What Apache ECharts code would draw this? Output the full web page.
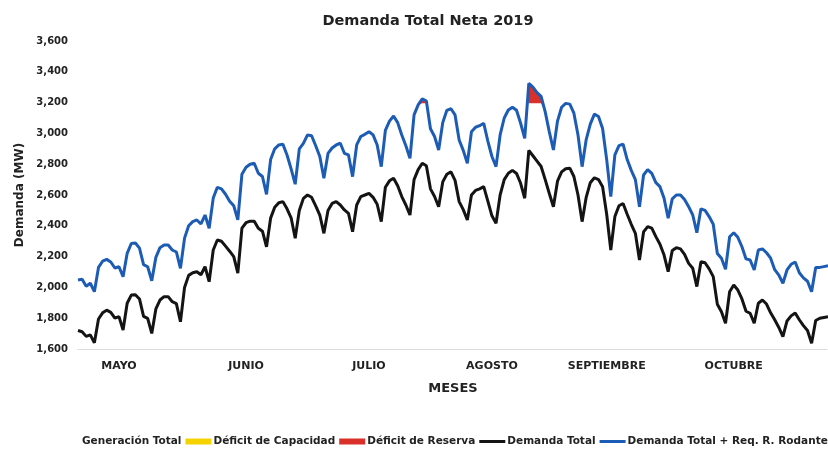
<!DOCTYPE html>
<html>
<head>
<meta charset="utf-8">
<script src="https://cdn.jsdelivr.net/npm/echarts@6.0.0/dist/echarts.min.js"></script>
<style>
    html, body { margin: 0; padding: 0; background: #fff; }
    #main { width: 828px; height: 450px; }
</style>
</head>
<body>
<div id="main"></div>
<script>
// Demanda diaria (MW), 1 de mayo a 31 de octubre de 2019
const demandaTotal = [
    // mayo
    1720, 1712, 1682, 1692, 1640, 1795, 1835, 1852, 1838, 1800, 1810, 1723, 1897, 1950, 1952, 1925,
    1812, 1799, 1701, 1860, 1918, 1940, 1940, 1907, 1895, 1777, 2000, 2078, 2095, 2102, 2082,
    // junio
    2134, 2037, 2243, 2308, 2300, 2268, 2235, 2200, 2092, 2385, 2420, 2430, 2430, 2384, 2365,
    2264, 2450, 2520, 2550, 2557, 2510, 2452, 2319, 2500, 2578, 2600, 2585, 2530, 2470, 2351,
    // julio
    2500, 2545, 2557, 2535, 2503, 2481, 2362, 2535, 2590, 2600, 2611, 2585, 2540, 2427, 2650, 2692,
    2709, 2660, 2590, 2535, 2470, 2700, 2765, 2806, 2790, 2640, 2590, 2524, 2685, 2735, 2750,
    // agosto
    2695, 2557, 2505, 2438, 2600, 2630, 2640, 2654, 2560, 2465, 2416, 2600, 2700, 2741, 2760, 2740,
    2676, 2579, 2890, 2855, 2820, 2785, 2700, 2610, 2524, 2690, 2750, 2770, 2774, 2720, 2600,
    // septiembre
    2427, 2585, 2680, 2712, 2700, 2654, 2475, 2243, 2460, 2530, 2545, 2475, 2410, 2351, 2178,
    2360, 2395, 2385, 2330, 2280, 2210, 2102, 2240, 2258, 2250, 2215, 2156, 2124, 2005, 2167,
    // octubre
    2160, 2120, 2070, 1890, 1842, 1767, 1972, 2016, 1983, 1925, 1845, 1832, 1767, 1897, 1918, 1892,
    1835, 1790, 1740, 1680, 1782, 1815, 1834, 1790, 1752, 1720, 1637, 1785, 1800, 1805, 1810
];

const demandaRodante = [
    // mayo
    2048, 2053, 2008, 2027, 1972, 2130, 2170, 2182, 2165, 2126, 2134, 2069, 2221, 2285, 2288, 2255,
    2148, 2134, 2043, 2195, 2258, 2275, 2275, 2243, 2230, 2124, 2320, 2400, 2427, 2438, 2412,
    // junio
    2470, 2384, 2580, 2650, 2640, 2605, 2560, 2530, 2438, 2735, 2780, 2800, 2806, 2741, 2720,
    2604, 2830, 2900, 2925, 2929, 2860, 2770, 2670, 2900, 2935, 2990, 2985, 2920, 2850, 2709,
    // julio
    2870, 2905, 2925, 2936, 2871, 2860, 2719, 2925, 2980, 2994, 3011, 2990, 2925, 2784, 3020, 3080,
    3113, 3070, 2990, 2920, 2838, 3120, 3185, 3225, 3210, 3030, 2980, 2892, 3070, 3150, 3160,
    // agosto
    3120, 2957, 2890, 2806, 3010, 3040, 3050, 3066, 2950, 2850, 2784, 2990, 3100, 3152, 3170, 3150,
    3066, 2968, 3325, 3300, 3265, 3240, 3140, 3010, 2892, 3080, 3170, 3195, 3190, 3131, 2990,
    // septiembre
    2784, 2960, 3060, 3125, 3110, 3032, 2830, 2589, 2860, 2920, 2930, 2830, 2760, 2700, 2524,
    2730, 2765, 2740, 2680, 2654, 2579, 2449, 2575, 2600, 2600, 2570, 2524, 2470, 2355, 2510,
    // octubre
    2500, 2460, 2410, 2220, 2189, 2118, 2329, 2355, 2325, 2264, 2185, 2178, 2113, 2243, 2250, 2225,
    2190, 2115, 2080, 2027, 2113, 2150, 2165, 2095, 2062, 2040, 1972, 2130, 2130, 2135, 2140
];

// Déficit de reserva (MW) en los días en que aparece
const deficitFechas = ['2019-07-23', '2019-07-24', '2019-07-25', '2019-07-26',
    '2019-08-19', '2019-08-20', '2019-08-21', '2019-08-22', '2019-08-23'];
const deficitValores = [0, 30, 15, 0, 130, 105, 70, 45, 0];

// Etiquetas de meses en el eje X
const meses = ['MAYO', 'JUNIO', 'JULIO', 'AGOSTO', 'SEPTIEMBRE', 'OCTUBRE'];
const mesesFechas = ['2019-05-11', '2019-06-11', '2019-07-11', '2019-08-10', '2019-09-07', '2019-10-08'];

// categorías: un día por punto
const dias = [];
for (let t = Date.UTC(2019, 4, 1); t <= Date.UTC(2019, 9, 31); t += 86400000) {
    dias.push(new Date(t).toISOString().slice(0, 10));
}

// base (generación) y déficit apilados sobre ella
const baseGeneracion = dias.map((d, i) => {
    const k = deficitFechas.indexOf(d);
    return k < 0 ? '-' : demandaRodante[i] - deficitValores[k];
});
const deficitReserva = dias.map(d => {
    const k = deficitFechas.indexOf(d);
    return k < 0 ? '-' : deficitValores[k];
});

const FONT = 'DejaVu Sans';
const LINE_ICON = 'path://M0,0H26V3H0Z';
const chart = echarts.init(document.getElementById('main'), null, { renderer: 'canvas' });

const option = {
    animation: false,
    backgroundColor: '#fff',
    title: {
        text: 'Demanda Total Neta 2019',
        left: 423,
        top: 9,
        textAlign: 'center',
        textStyle: { fontFamily: FONT, fontSize: 14.5, fontWeight: 'bold', color: '#222' }
    },
    legend: {
        left: 49,
        top: 431,
        width: 1000,
        itemGap: 4,
        itemWidth: 26,
        itemHeight: 6,
        textStyle: { fontFamily: FONT, fontSize: 10.5, fontWeight: 'bold', color: '#222', padding: [0, 0, 0, -3] },
        data: [
            { name: 'Generación Total', icon: 'rect', itemStyle: { opacity: 0 } },
            { name: 'Déficit de Capacidad', icon: 'rect' },
            { name: 'Déficit de Reserva', icon: 'rect' },
            { name: 'Demanda Total', icon: LINE_ICON },
            { name: 'Demanda Total + Req. R. Rodante', icon: LINE_ICON }
        ]
    },
    grid: { left: 78, right: -6, top: 41, bottom: 101 },
    xAxis: {
        type: 'category',
        data: dias,
        boundaryGap: false,
        name: 'MESES',
        nameLocation: 'middle',
        nameGap: 33,
        nameTextStyle: { fontFamily: FONT, fontSize: 13, fontWeight: 'bold', color: '#222' },
        axisLine: { lineStyle: { color: '#d6d6d6', type: 'dotted', width: 1 } },
        axisTick: { show: false },
        axisLabel: {
            margin: 12,
            fontFamily: FONT,
            fontSize: 11,
            fontWeight: 'bold',
            color: '#222',
            interval: (i, v) => mesesFechas.includes(v),
            formatter: v => meses[mesesFechas.indexOf(v)] || ''
        }
    },
    yAxis: {
        type: 'value',
        min: 1600,
        max: 3600,
        interval: 200,
        name: 'Demanda (MW)',
        nameLocation: 'middle',
        nameGap: 51,
        nameTextStyle: { fontFamily: FONT, fontSize: 12, fontWeight: 'bold', color: '#222' },
        axisLine: { show: false },
        axisTick: { show: false },
        splitLine: { show: false },
        axisLabel: {
            margin: 10,
            fontFamily: FONT,
            fontSize: 10,
            fontWeight: 'bold',
            color: '#222',
            formatter: v => v.toLocaleString('en-US')
        }
    },
    series: [
        {
            name: 'Generación Total',
            type: 'line',
            stack: 'deficit',
            data: baseGeneracion,
            symbol: 'none',
            silent: true,
            color: '#ffffff',
            lineStyle: { opacity: 0 }
        },
        {
            name: 'Déficit de Capacidad',
            type: 'line',
            data: [],
            symbol: 'none',
            color: '#f5d300'
        },
        {
            name: 'Déficit de Reserva',
            type: 'line',
            stack: 'deficit',
            data: deficitReserva,
            symbol: 'none',
            color: '#d9302a',
            lineStyle: { width: 0 },
            areaStyle: { color: '#d9302a', opacity: 1 }
        },
        {
            name: 'Demanda Total',
            type: 'line',
            data: demandaTotal,
            symbol: 'none',
            color: '#141414',
            lineStyle: { width: 3, color: '#141414' }
        },
        {
            name: 'Demanda Total + Req. R. Rodante',
            type: 'line',
            data: demandaRodante,
            symbol: 'none',
            color: '#1d5cb5',
            lineStyle: { width: 3, color: '#1d5cb5' }
        }
    ]
};

chart.setOption(option);
</script>
</body>
</html>
